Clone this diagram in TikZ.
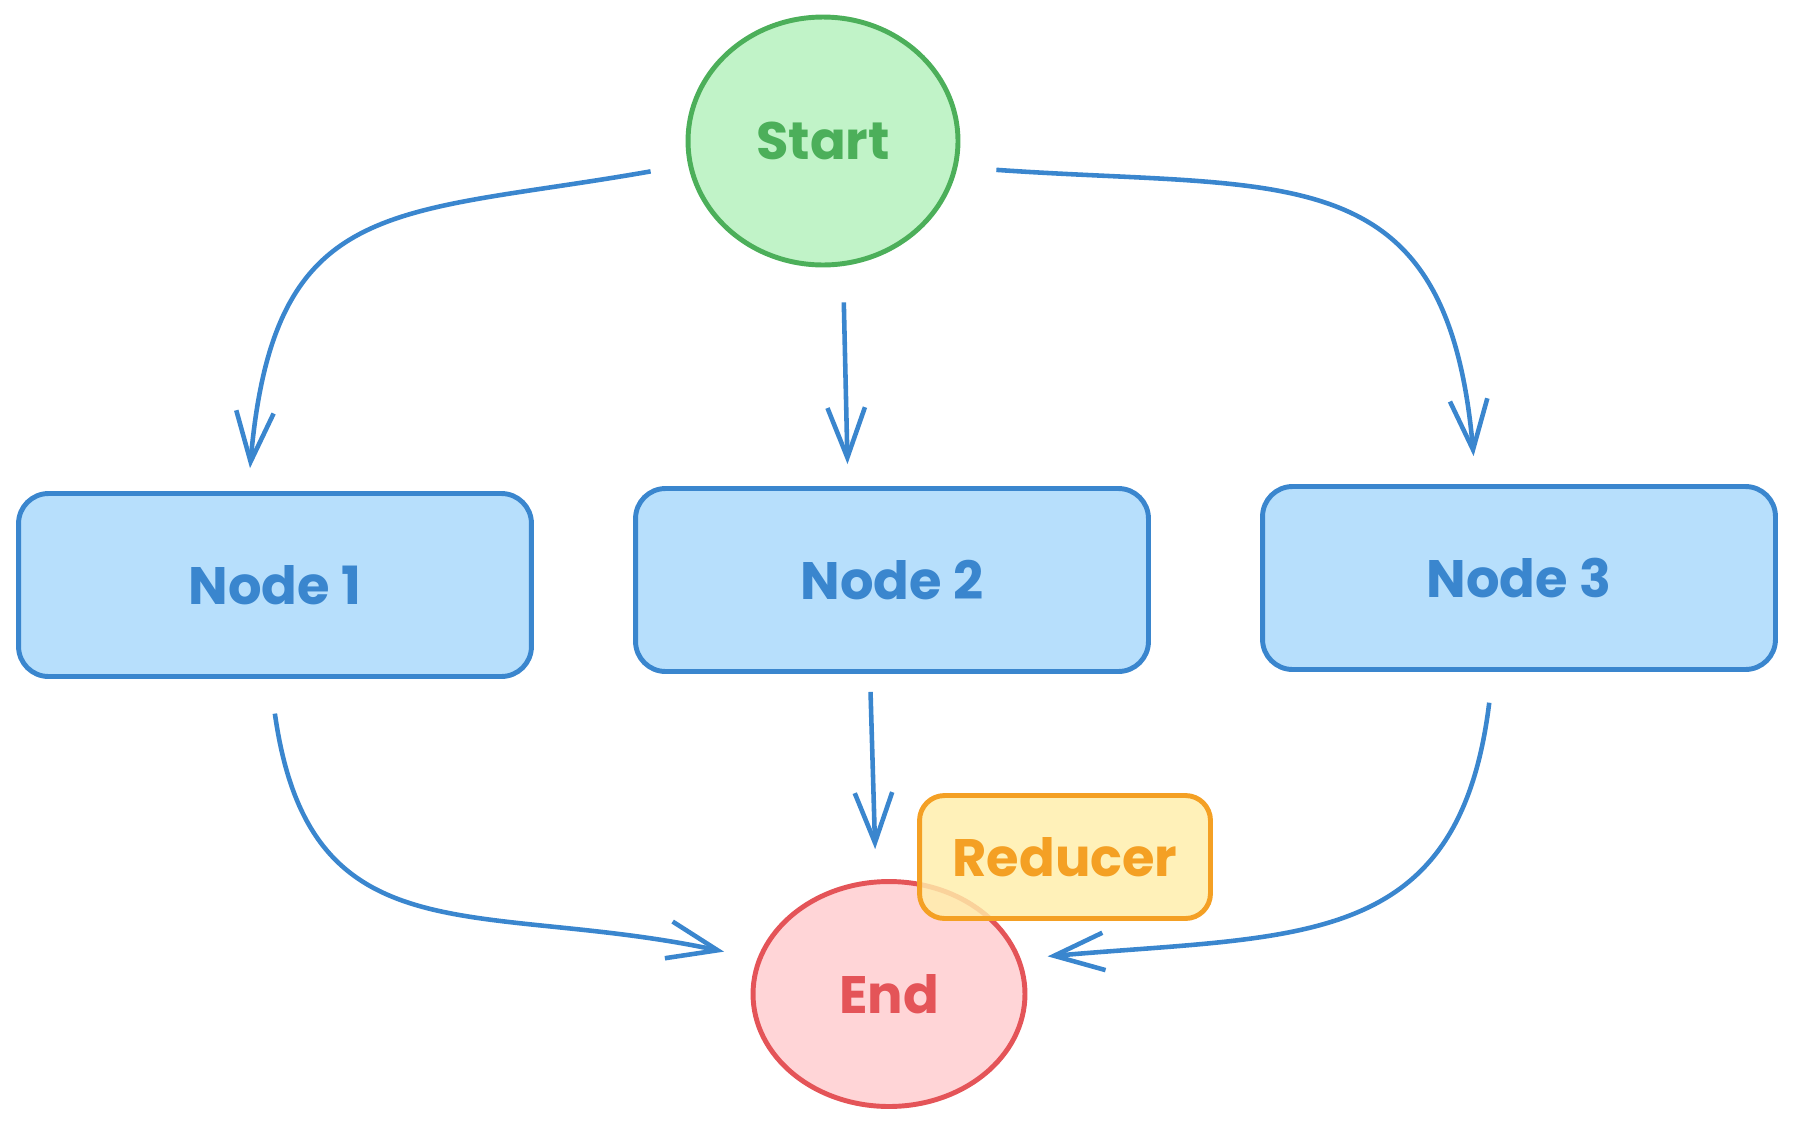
\documentclass[tikz,border=0pt]{standalone}
\usepackage{fontspec}
\setmainfont{Poppins}
\usetikzlibrary{arrows.meta,shapes.geometric}
\definecolor{edgeblue}{RGB}{58,134,206}
\definecolor{boxblue}{RGB}{183,223,252}
\definecolor{startgreen}{RGB}{76,175,90}
\definecolor{startfill}{RGB}{193,243,200}
\definecolor{endred}{RGB}{228,84,88}
\definecolor{endfill}{RGB}{255,213,215}
\definecolor{redorange}{RGB}{244,160,36}
\definecolor{redfill}{RGB}{255,238,170}

\begin{document}
\begin{tikzpicture}[x=0.02cm,y=-0.02cm,
    font=\fontsize{30}{36}\selectfont\bfseries,
    nodebox/.style={rectangle, rounded corners=0.6cm, draw=edgeblue, fill=boxblue, text=edgeblue,
        line width=2.8pt, minimum width=10.26cm, minimum height=3.66cm},
    flow/.style={edgeblue, line width=2.6pt, -{Straight Barb[length=1cm,width=0.75cm]}}]
    \useasboundingbox (0,0) rectangle (1794,1126);

    \node[ellipse, draw=startgreen, fill=startfill, text=startgreen, line width=2.8pt,
        minimum width=5.4cm, minimum height=4.96cm] (start) at (823,141) {Start};

    \node[nodebox] (n1) at (275,585) {Node 1};
    \node[nodebox] (n2) at (892,580) {Node 2};
    \node[nodebox] (n3) at (1519,578) {Node 3};

    \node[ellipse, draw=endred, fill=endfill, text=endred, line width=2.8pt,
        minimum width=5.44cm, minimum height=4.5cm] (endn) at (889,994) {End};
    \node[rectangle, rounded corners=0.5cm, draw=redorange, fill=redfill, fill opacity=0.82,
        text opacity=1, text=redorange, line width=2.8pt,
        minimum width=5.82cm, minimum height=2.46cm] (reducer) at (1065,857) {Reducer};

%    \draw[gray!30] (0,0) grid[step=100] (1794,1126);

    \draw[flow, shorten <=0.76cm, shorten >=0.46cm] (start.190) to[out=190, in=85, looseness=1.4] ([xshift=-0.54cm]n1.north);
    \draw[flow, shorten <=0.7cm, shorten >=0.44cm] ([xshift=0.4cm]start.south) -- ([xshift=-0.88cm]n2.north);
    \draw[flow, shorten <=0.78cm, shorten >=0.56cm] (start.-11) to[out=-4, in=95, looseness=1.4] ([xshift=-0.86cm]n3.north);

    \draw[flow, shorten <=0.7cm, shorten >=0.68cm] ([xshift=-0.1cm]n1.south) to[out=-82, in=168, looseness=1.3] (endn.165);
    \draw[flow, shorten <=0.36cm, shorten >=0.6cm] ([xshift=-0.44cm]n2.south) -- ([xshift=-0.26cm]endn.north);
    \draw[flow, shorten <=0.62cm, shorten >=0.54cm] ([xshift=-0.52cm]n3.south) to[out=-97, in=5, looseness=1.3] (endn.15);

\end{tikzpicture}
\end{document}
